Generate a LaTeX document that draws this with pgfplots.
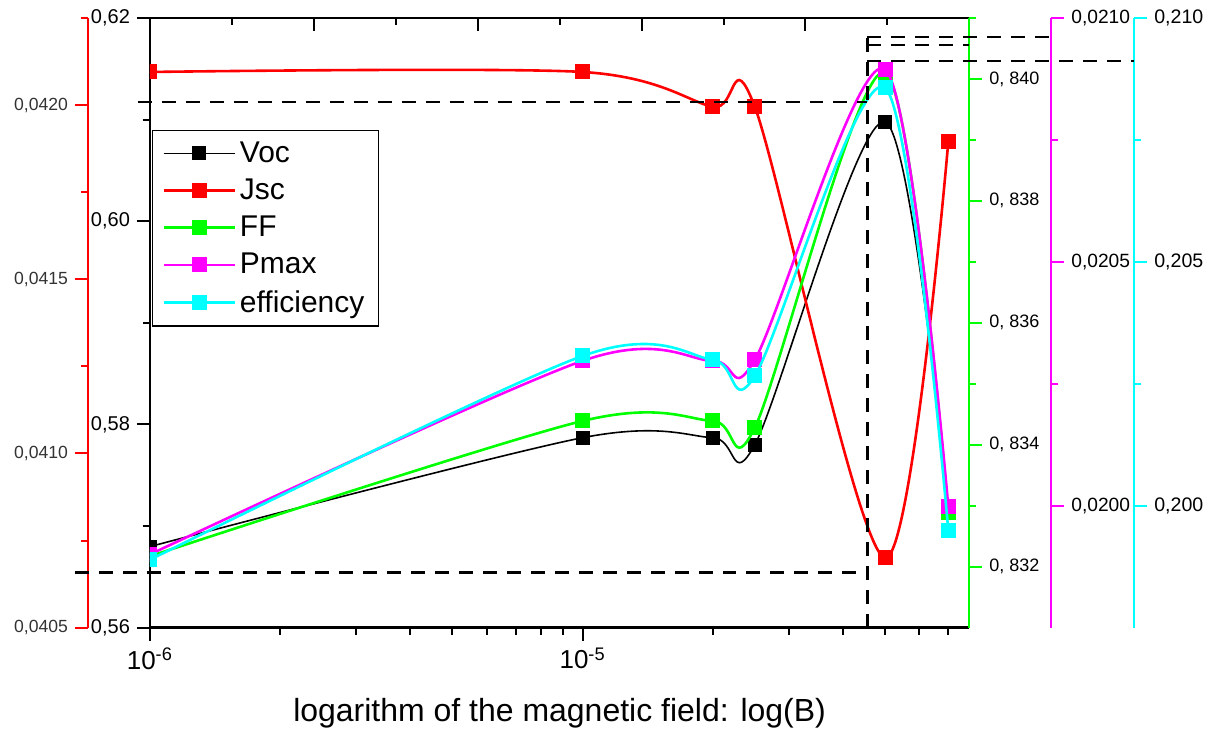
\documentclass[border=0pt]{standalone}
\usepackage{fontspec}
\setmainfont{Liberation Sans}
\usepackage{pgfplots}
\pgfplotsset{compat=1.18}
\definecolor{cRed}{RGB}{255,0,0}
\definecolor{cGreen}{RGB}{0,255,0}
\definecolor{cMag}{RGB}{255,0,255}
\definecolor{cCyan}{RGB}{0,255,255}
\pgfplotsset{
  box geom/.style={at={(0pt,0pt)}, anchor=south west, width=410pt, height=305pt,
    scale only axis, clip=false, scaled y ticks=false, scaled x ticks=false},
  clipped/.style={clip=true, clip marker paths=true},
  major tick length=6.5pt, minor tick length=3.5pt,
}
\tikzset{
  ser/.style={smooth, line width=1.3pt, mark=square*, mark size=3.1pt, mark options={solid}},
}
\begin{document}
\begin{tikzpicture}
% page size as the reference
\path (-75pt,-50.5pt) rectangle (530pt,314pt);

% ---- red axis (Jsc), left of the frame ----
\begin{axis}[box geom, at={(-31pt,0pt)}, xmin=0, xmax=1, ymin=0.0405, ymax=0.04225,
  hide x axis, axis y line*=left, y axis line style={cRed, line width=1pt, -},
  ytick={0.0405,0.041,0.0415,0.042},
  yticklabels={{0,0405},{0,0410},{0,0415},{0,0420}},
  minor ytick={0.04075,0.04125,0.04175,0.04225},
  tick align=outside, tick style={cRed, line width=1pt},
  yticklabel style={font=\fontsize{8.8}{10}\selectfont, text=black!80}]
\end{axis}

% ---- magenta axis (Pmax) ----
\begin{axis}[box geom, at={(41pt,0pt)}, xmin=0, xmax=1, ymin=0.01975, ymax=0.0210,
  hide x axis, axis y line*=right, y axis line style={cMag, line width=1pt, -},
  ytick={0.02,0.0205,0.021},
  yticklabels={{0,0200},{0,0205},{0,0210}},
  minor ytick={0.02025,0.02075},
  tick align=outside, tick style={cMag, line width=1pt},
  yticklabel style={font=\fontsize{9.6}{11}\selectfont}]
\end{axis}

% ---- cyan axis (efficiency) ----
\begin{axis}[box geom, at={(82.5pt,0pt)}, xmin=0, xmax=1, ymin=0.1975, ymax=0.210,
  hide x axis, axis y line*=right, y axis line style={cCyan, line width=1pt, -},
  ytick={0.2,0.205,0.21},
  yticklabels={{0,200},{0,205},{0,210}},
  minor ytick={0.2025,0.2075},
  tick align=outside, tick style={cCyan, line width=1pt},
  yticklabel style={font=\fontsize{9.8}{11}\selectfont}]
\end{axis}

% ---- top edge of the frame ----
\begin{axis}[box geom, xmin=0, xmax=820, ymin=0, ymax=1,
  hide y axis, axis x line*=top, x axis line style={black, line width=1.2pt, -},
  xtick={164,328,492,656}, minor xtick={82,246,410,574,738}, xticklabels={},
  tick align=inside, tick style={black, line width=1pt}]
\end{axis}

% ---- Voc, black axis ----
\begin{axis}[box geom, clipped, xmode=log, xmin=1e-6, xmax=7.83e-5, ymin=0.56, ymax=0.62,
  axis x line*=bottom, axis y line*=left, axis line style={black, line width=1.2pt, -},
  xtick={1e-6,1e-5}, xticklabels={10\textsuperscript{-6},10\textsuperscript{-5}},
  minor xtick={2e-6,3e-6,4e-6,5e-6,6e-6,7e-6,8e-6,9e-6,2e-5,3e-5,4e-5,5e-5,6e-5,7e-5},
  ytick={0.56,0.58,0.6,0.62}, yticklabels={{0,56},{0,58},{0,60},{0,62}},
  minor ytick={0.57,0.59,0.61},
  tick align=outside, tick style={black, line width=1pt},
  xticklabel style={font=\fontsize{13}{15}\selectfont},
  yticklabel style={font=\fontsize{10}{12}\selectfont},
  xlabel={logarithm of the magnetic field: log(B)},
  xlabel style={font=\fontsize{16}{19}\selectfont, at={(axis description cs:0.5,0)},
    anchor=base, yshift=-47pt},
  legend style={at={(0.0024,0.8164)}, anchor=north west, draw=black, line width=0.6pt,
    font=\fontsize{15}{18}\selectfont, row sep=2.8pt, inner xsep=5pt, inner ysep=3.5pt,
    cells={anchor=west}},
  legend image code/.code={\draw[mark repeat=2,mark phase=2]
    plot coordinates {(0pt,0pt)(17.75pt,0pt)(35.5pt,0pt)};}]
\addplot[black, ser, line width=0.8pt] coordinates {
  (1e-6,0.56797) (1e-5,0.57869) (2e-5,0.57869) (2.5e-5,0.5780) (5e-5,0.60977) (7e-5,0.5716)};
\addlegendentry{Voc}
\addlegendimage{cRed, ser}
\addlegendentry{Jsc}
\addlegendimage{cGreen, ser}
\addlegendentry{FF}
\addlegendimage{cMag, ser}
\addlegendentry{Pmax}
\addlegendimage{cCyan, ser}
\addlegendentry{efficiency}
\end{axis}

% ---- Jsc ----
\begin{axis}[box geom, clipped, xmode=log, xmin=1e-6, xmax=7.83e-5, ymin=0.0405, ymax=0.04225, hide axis]
\addplot[cRed, ser] coordinates {
  (1e-6,0.042095) (1e-5,0.042095) (2e-5,0.041995) (2.5e-5,0.041995) (5e-5,0.04070) (7e-5,0.041894)};
\end{axis}

% ---- FF, green axis on the right edge ----
\begin{axis}[box geom, clipped, xmode=log, xmin=1e-6, xmax=7.83e-5, ymin=0.831, ymax=0.841,
  hide x axis, axis y line*=right, y axis line style={cGreen, line width=1pt, -},
  ytick={0.832,0.834,0.836,0.838,0.840},
  yticklabels={{0, 832},{0, 834},{0, 836},{0, 838},{0, 840}},
  minor ytick={0.833,0.835,0.837,0.839,0.841},
  tick align=outside, tick style={cGreen, line width=1pt},
  yticklabel style={font=\fontsize{9}{11}\selectfont}]
\addplot[cGreen, ser] coordinates {
  (1e-6,0.83217) (1e-5,0.83439) (2e-5,0.83439) (2.5e-5,0.83428) (5e-5,0.84011) (7e-5,0.83289)};
\end{axis}

% ---- Pmax ----
\begin{axis}[box geom, clipped, xmode=log, xmin=1e-6, xmax=7.83e-5, ymin=0.01975, ymax=0.0210, hide axis]
\addplot[cMag, ser] coordinates {
  (1e-6,0.01990) (1e-5,0.020297) (2e-5,0.020297) (2.5e-5,0.020299) (5e-5,0.020895) (7e-5,0.019998)};
\end{axis}

% ---- efficiency ----
\begin{axis}[box geom, clipped, xmode=log, xmin=1e-6, xmax=7.83e-5, ymin=0.1975, ymax=0.210, hide axis]
\addplot[cCyan, ser] coordinates {
  (1e-6,0.19889) (1e-5,0.20307) (2e-5,0.20299) (2.5e-5,0.20266) (5e-5,0.20857) (7e-5,0.19949)};
\end{axis}

% ---- dashed guides ----
\begin{axis}[box geom, xmin=0, xmax=1, ymin=0, ymax=1, hide axis]
\begin{scope}[black, line width=1.2pt, dash pattern=on 7pt off 5pt]
\draw (rel axis cs:0.8756,0) -- (rel axis cs:0.8756,0.9689);
\draw (rel axis cs:-0.0146,0.8623) -- (rel axis cs:0.8756,0.8623);
\draw (rel axis cs:-0.0915,0.0902) -- (rel axis cs:0.8756,0.0902);
\draw (rel axis cs:0.8756,0.9689) -- (rel axis cs:1.1,0.9689);
\draw (rel axis cs:0.8756,0.9557) -- (rel axis cs:1.0,0.9557);
\draw (rel axis cs:0.8756,0.9295) -- (rel axis cs:1.2012,0.9295);
\end{scope}
\end{axis}
\end{tikzpicture}
\end{document}
